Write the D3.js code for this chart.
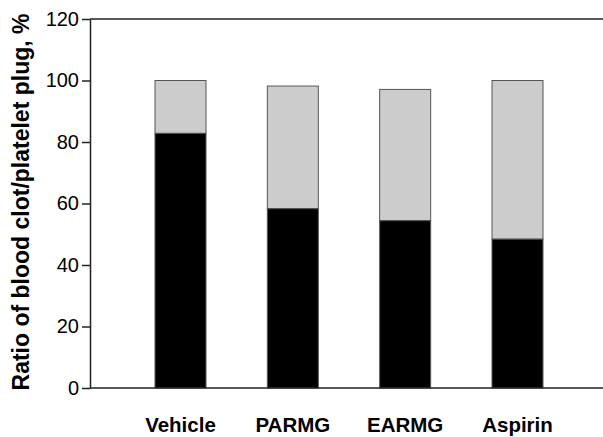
<!DOCTYPE html>
<html><head><meta charset="utf-8">
<script src="https://cdn.jsdelivr.net/npm/d3@7"></script>
<style>body{margin:0;background:#fff}svg{display:block}</style>
</head><body>
<svg id="c" width="603" height="437"></svg>
<script>
const categories = ["Vehicle", "PARMG", "EARMG", "Aspirin"];
const bloodClot = [82.8, 58.3, 54.4, 48.4];
const total = [100, 98.2, 97.1, 100];
const yTicks = [0, 20, 40, 60, 80, 100, 120];
const yTitle = "Ratio of blood clot/platelet plug, %";

(function () {
const svg = d3.select("#c");
const mLeft = 90, mRight = 604, mTop = 19, mBottom = 388;
const y = d3.scaleLinear().domain([0, 120]).range([mBottom, mTop]);
const x = d3.scaleBand().domain(categories).range([155, 543]).paddingInner(0.546).paddingOuter(0);

// bars
const g = svg.append("g");
categories.forEach((c, i) => {
  g.append("rect").attr("x", x(c)).attr("width", x.bandwidth())
    .attr("y", y(total[i])).attr("height", y(bloodClot[i]) - y(total[i]))
    .attr("fill", "#cccccc").attr("stroke", "#555").attr("stroke-width", 1);
  g.append("rect").attr("x", x(c)).attr("width", x.bandwidth())
    .attr("y", y(bloodClot[i])).attr("height", y(0) - y(bloodClot[i]))
    .attr("fill", "#000").attr("stroke", "#555").attr("stroke-width", 1);
});

// frame lines
svg.append("line").attr("x1", mLeft).attr("x2", mRight).attr("y1", mTop).attr("y2", mTop)
  .attr("stroke", "#222").attr("stroke-width", 1.5);
svg.append("line").attr("x1", mLeft).attr("x2", mRight).attr("y1", mBottom).attr("y2", mBottom)
  .attr("stroke", "#222").attr("stroke-width", 1.5);

// y axis
const yAxis = d3.axisLeft(y).tickValues(yTicks).tickSize(8).tickPadding(3).tickSizeOuter(0);
const ya = svg.append("g").attr("transform", `translate(${mLeft},0)`).call(yAxis);
ya.select(".domain").attr("stroke", "#222").attr("stroke-width", 1.5);
ya.selectAll(".tick line").attr("stroke", "#222").attr("stroke-width", 1.5);
ya.selectAll(".tick text").attr("font-family", "Liberation Sans, Arial, sans-serif")
  .attr("font-size", 20).attr("fill", "#000");

// x labels
svg.append("g").selectAll("text").data(categories).join("text")
  .attr("x", d => x(d) + x.bandwidth() / 2).attr("y", 432)
  .attr("text-anchor", "middle").attr("font-family", "Liberation Sans, Arial, sans-serif")
  .attr("font-weight", "bold").attr("font-size", 20.5).attr("fill", "#000").text(d => d);

// y title
svg.append("text").attr("transform", `translate(29,202) rotate(-90)`)
  .attr("text-anchor", "middle").attr("font-family", "Liberation Sans, Arial, sans-serif")
  .attr("font-weight", "bold").attr("font-size", 23)
  .attr("fill", "#000").text(yTitle);
})();
</script>
</body></html>
